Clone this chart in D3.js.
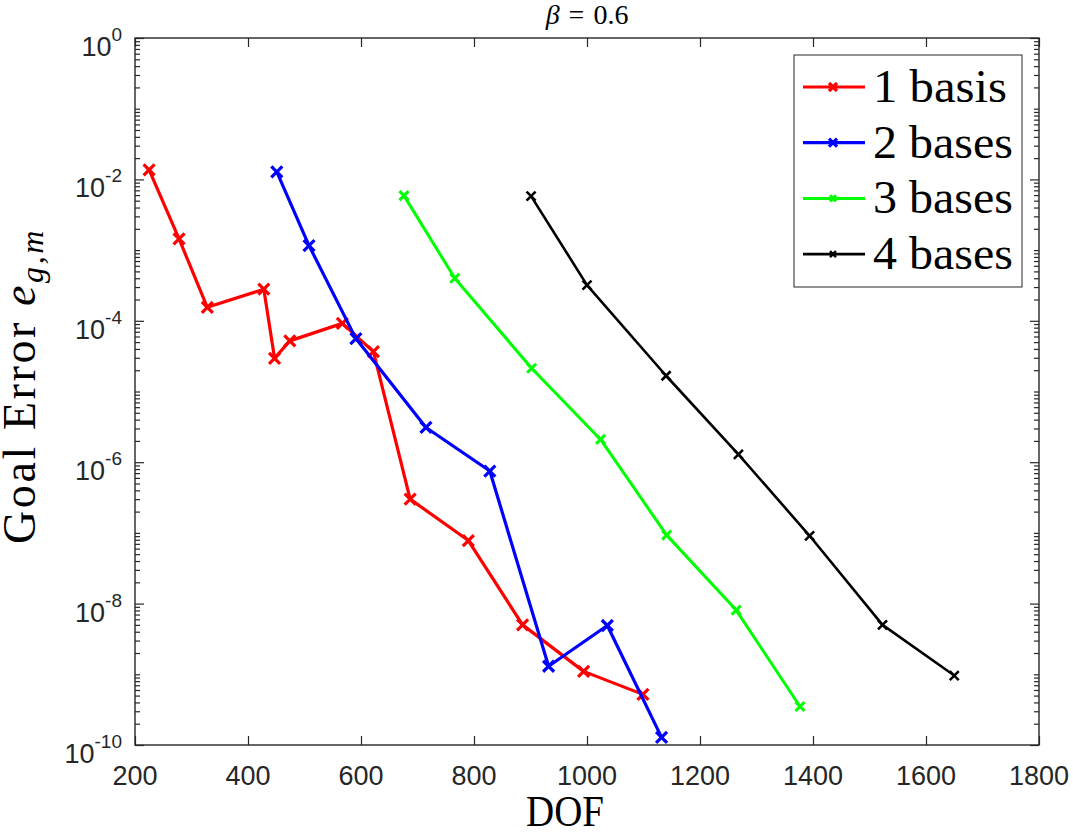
<!DOCTYPE html>
<html lang="en">
	<head>
		<meta charset="UTF-8" />
		<title>Goal error vs DOF</title>
		<script src="https://d3js.org/d3.v7.min.js"></script>
		<style>
			body {
				margin: 0;
				background: #fff;
			}
			.tick-label {
				font-family: "Liberation Sans", Arial, sans-serif;
				fill: #262626;
			}
			.tex {
				font-family: "Liberation Serif", "Times New Roman", serif;
				fill: #000;
			}
		</style>
	</head>
	<body>
		<svg id="chart"></svg>

		<script>
			// Data
			const SERIES_NAMES = ["1 basis", "2 bases", "3 bases", "4 bases"];
			const SERIES_COLORS = ["#ff0000", "#0000ff", "#00ff00", "#000000"];

			const DOF_1 = [225, 278, 328, 428, 447, 474, 567, 622, 687, 790, 886, 994, 1099];
			const ERR_1 = [1.36e-2, 1.44e-3, 1.55e-4, 2.8e-4, 2.95e-5, 5.2e-5, 9.2e-5, 3.66e-5, 3.0e-7, 7.8e-8, 5.0e-9, 1.1e-9, 5.2e-10];

			const DOF_2 = [451, 508, 591, 715, 828, 932, 1036, 1132];
			const ERR_2 = [1.28e-2, 1.16e-3, 5.6e-5, 3.1e-6, 7.5e-7, 1.3e-9, 4.9e-9, 1.28e-10];

			const DOF_3 = [676, 766, 902, 1024, 1141, 1264, 1377];
			const ERR_3 = [5.9e-3, 4.0e-4, 2.13e-5, 2.1e-6, 9.3e-8, 8.1e-9, 3.5e-10];

			const DOF_4 = [901, 1000, 1140, 1268, 1394, 1523, 1650];
			const ERR_4 = [5.8e-3, 3.2e-4, 1.67e-5, 1.29e-6, 9.1e-8, 5.0e-9, 9.6e-10];

			const X_TICKS = [200, 400, 600, 800, 1000, 1200, 1400, 1600, 1800];
			const Y_TICKS = [1e0, 1e-2, 1e-4, 1e-6, 1e-8, 1e-10];
			const Y_TICK_EXPONENTS = ["0", "-2", "-4", "-6", "-8", "-10"];

			const series = [
				{ name: SERIES_NAMES[0], color: SERIES_COLORS[0], dof: DOF_1, err: ERR_1, width: 3.2, marker: 5.5, textLen: 134 },
				{ name: SERIES_NAMES[1], color: SERIES_COLORS[1], dof: DOF_2, err: ERR_2, width: 3.2, marker: 5.5, textLen: 140 },
				{ name: SERIES_NAMES[2], color: SERIES_COLORS[2], dof: DOF_3, err: ERR_3, width: 3, marker: 4.5, textLen: 140 },
				{ name: SERIES_NAMES[3], color: SERIES_COLORS[3], dof: DOF_4, err: ERR_4, width: 2.6, marker: 4.5, textLen: 140 },
			];

			// Layout
			const WIDTH = 1073;
			const HEIGHT = 834;
			const PLOT = { left: 135, right: 1039, top: 38, bottom: 745 };
			const AXIS_COLOR = "#262626";

			const xScale = d3.scaleLinear().domain([200, 1800]).range([PLOT.left, PLOT.right]);
			const yScale = d3.scaleLog().domain([1e-10, 1]).range([PLOT.bottom, PLOT.top]);

			const svg = d3.select("#chart").attr("width", WIDTH).attr("height", HEIGHT);

			// Minor log ticks
			const minorTicks = [];
			for (let e = -10; e < 0; e++) {
				for (let m = 1; m < 10; m++) {
					if (m === 1 && e % 2 === 0) continue;
					minorTicks.push(m * Math.pow(10, e));
				}
			}

			const axes = svg.append("g").attr("class", "axes");

			function styleAxis(g) {
				g.select(".domain").remove();
				g.selectAll("line").attr("stroke", AXIS_COLOR).attr("stroke-width", 1.2);
			}

			// bottom / top ticks (inward)
			axes.append("g")
				.attr("transform", `translate(0,${PLOT.bottom})`)
				.call(d3.axisBottom(xScale).tickValues(X_TICKS).tickSize(-9).tickFormat(""))
				.call(styleAxis);
			axes.append("g")
				.attr("transform", `translate(0,${PLOT.top})`)
				.call(d3.axisTop(xScale).tickValues(X_TICKS).tickSize(-9).tickFormat(""))
				.call(styleAxis);

			// left / right ticks (inward)
			axes.append("g")
				.attr("transform", `translate(${PLOT.left},0)`)
				.call(d3.axisLeft(yScale).tickValues(Y_TICKS).tickSize(-9).tickFormat(""))
				.call(styleAxis);
			axes.append("g")
				.attr("transform", `translate(${PLOT.left},0)`)
				.call(d3.axisLeft(yScale).tickValues(minorTicks).tickSize(-5).tickFormat(""))
				.call(styleAxis);
			axes.append("g")
				.attr("transform", `translate(${PLOT.right},0)`)
				.call(d3.axisRight(yScale).tickValues(Y_TICKS).tickSize(-9).tickFormat(""))
				.call(styleAxis);
			axes.append("g")
				.attr("transform", `translate(${PLOT.right},0)`)
				.call(d3.axisRight(yScale).tickValues(minorTicks).tickSize(-5).tickFormat(""))
				.call(styleAxis);

			// Box
			axes.append("rect")
				.attr("x", PLOT.left)
				.attr("y", PLOT.top)
				.attr("width", PLOT.right - PLOT.left)
				.attr("height", PLOT.bottom - PLOT.top)
				.attr("fill", "none")
				.attr("stroke", AXIS_COLOR)
				.attr("stroke-width", 1.4);

			// X tick labels
			svg.append("g")
				.selectAll("text")
				.data(X_TICKS)
				.enter()
				.append("text")
				.attr("class", "tick-label")
				.attr("x", (d) => xScale(d))
				.attr("y", PLOT.bottom + 40)
				.attr("text-anchor", "middle")
				.attr("font-size", 27)
				.text((d) => d);

			// Y tick labels 10^n
			const yLabels = svg.append("g")
				.selectAll("text")
				.data(Y_TICKS)
				.enter()
				.append("text")
				.attr("class", "tick-label")
				.attr("x", PLOT.left - 13)
				.attr("y", (d) => yScale(d) + 18)
				.attr("text-anchor", "end")
				.attr("font-size", 27);
			yLabels.append("tspan").text("10");
			yLabels.append("tspan")
				.attr("font-size", 19)
				.attr("dy", -15)
				.text((d, i) => Y_TICK_EXPONENTS[i]);

			// Lines and markers
			const line = d3.line()
				.x((d) => xScale(d[0]))
				.y((d) => yScale(d[1]));

			const crossPath = (s) => `M${-s},${-s}L${s},${s}M${-s},${s}L${s},${-s}`;

			const plot = svg.append("g");
			series.forEach((s) => {
				const pts = s.dof.map((x, i) => [x, s.err[i]]);
				plot.append("path")
					.datum(pts)
					.attr("d", line)
					.attr("fill", "none")
					.attr("stroke", s.color)
					.attr("stroke-width", s.width)
					.attr("stroke-linejoin", "round");
				plot.selectAll(null)
					.data(pts)
					.enter()
					.append("path")
					.attr("d", crossPath(s.marker))
					.attr("transform", (d) => `translate(${xScale(d[0])},${yScale(d[1])})`)
					.attr("stroke", s.color)
					.attr("stroke-width", s.width)
					.attr("fill", "none");
			});

			// Legend
			const LEGEND = { x: 794, y: 55, w: 228, h: 232, rowStart: 87, rowGap: 55.7 };
			const legend = svg.append("g");
			legend.append("rect")
				.attr("x", LEGEND.x)
				.attr("y", LEGEND.y)
				.attr("width", LEGEND.w)
				.attr("height", LEGEND.h)
				.attr("fill", "#fff")
				.attr("stroke", AXIS_COLOR)
				.attr("stroke-width", 1);
			const rows = legend.selectAll("g.row")
				.data(series)
				.enter()
				.append("g")
				.attr("class", "row")
				.attr("transform", (d, i) => `translate(0,${LEGEND.rowStart + i * LEGEND.rowGap})`);
			rows.append("line")
				.attr("x1", 803)
				.attr("x2", 865)
				.attr("stroke", (d) => d.color)
				.attr("stroke-width", (d) => d.width);
			rows.append("path")
				.attr("d", (d) => crossPath(d.marker - 1.5))
				.attr("transform", "translate(833,0)")
				.attr("stroke", (d) => d.color)
				.attr("stroke-width", (d) => d.width);
			rows.append("text")
				.attr("class", "tex")
				.attr("x", 873)
				.attr("y", 15)
				.attr("font-size", 47)
				.attr("textLength", (d) => d.textLen)
				.attr("lengthAdjust", "spacingAndGlyphs")
				.text((d) => d.name);

			// Title: beta = 0.6
			const title = svg.append("text")
				.attr("class", "tex")
				.attr("x", (PLOT.left + PLOT.right) / 2)
				.attr("y", 24)
				.attr("text-anchor", "middle")
				.attr("font-size", 28);
			title.append("tspan").attr("font-style", "italic").text("β");
			title.append("tspan").attr("dx", 9).text("=");
			title.append("tspan").attr("dx", 9).text("0.6");

			// Axis labels
			svg.append("text")
				.attr("class", "tex")
				.attr("x", 565)
				.attr("y", 826)
				.attr("text-anchor", "middle")
				.attr("font-size", 45)
				.attr("textLength", 78)
				.attr("lengthAdjust", "spacingAndGlyphs")
				.text("DOF");

			const ylab = svg.append("text")
				.attr("class", "tex")
				.attr("transform", "translate(35,386) rotate(-90)")
				.attr("text-anchor", "middle")
				.attr("font-size", 46);
			ylab.append("tspan").text("Goal Error ");
			ylab.append("tspan").attr("font-style", "italic").text("e");
			ylab.append("tspan")
				.attr("font-size", 32)
				.attr("dy", 8)
				.attr("font-style", "italic")
				.text("g,m");
			// stretch to the label length seen in the figure
			const natural = ylab.node().getComputedTextLength();
			const nChars = "Goal Error eg,m".length;
			ylab.attr("letter-spacing", Math.max(0, (316 - natural) / nChars));
		</script>
	</body>
</html>
